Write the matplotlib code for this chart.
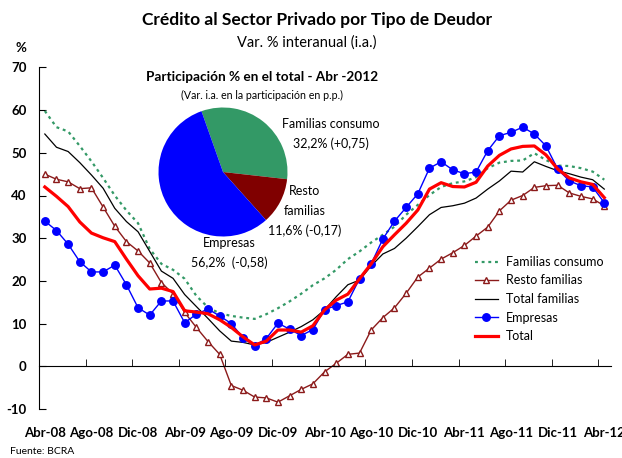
import numpy as np
import matplotlib.pyplot as plt

plt.rcParams['font.family'] = ['Lato', 'DejaVu Sans']

# monthly series, Abr-08 .. Abr-12 (var. % i.a.)
month_labels = ['Abr-08', 'Ago-08', 'Dic-08', 'Abr-09', 'Ago-09', 'Dic-09', 'Abr-10',
                'Ago-10', 'Dic-10', 'Abr-11', 'Ago-11', 'Dic-11', 'Abr-12']

familias_consumo = [59.8, 56.0, 55.0, 51.6, 48.0, 44.1, 40.0, 36.5, 33.5, 27.5, 24.0, 22.6, 20.5,
                    16.5, 13.8, 12.4, 11.8, 11.4, 11.1, 12.2, 13.6, 15.2, 17.0, 19.0, 20.6,
                    22.6, 25.1, 26.9, 29.0, 30.8, 32.7, 35.5, 37.8, 40.1, 42.0, 42.9, 43.3,
                    44.3, 46.4, 47.7, 48.1, 48.2, 49.9, 48.3, 47.0, 46.9, 46.4, 45.6, 43.7]
resto_familias = [45.0, 43.8, 43.2, 41.6, 41.8, 37.3, 32.8, 29.2, 27.0, 24.2, 19.6, 17.0, 12.6,
                  9.1, 5.8, 2.8, -4.5, -5.6, -7.2, -7.4, -8.4, -6.9, -5.4, -4.1, -1.3,
                  0.7, 2.8, 3.1, 8.5, 11.4, 13.7, 17.1, 20.9, 23.0, 25.1, 26.6, 28.3,
                  30.5, 32.6, 36.4, 38.9, 40.0, 41.9, 42.3, 42.4, 40.6, 39.8, 39.2, 37.6]
total_familias = [54.4, 51.3, 50.3, 47.7, 44.8, 41.7, 37.0, 33.9, 31.5, 26.9, 22.3, 20.6, 16.8,
                  14.0, 11.2, 8.3, 5.9, 5.6, 5.0, 5.6, 6.8, 8.0, 9.3, 10.9, 13.2,
                  16.3, 19.1, 20.2, 23.5, 26.3, 27.6, 30.0, 32.7, 35.5, 37.2, 37.6, 38.2,
                  39.4, 41.5, 43.4, 45.7, 45.5, 47.9, 46.8, 45.8, 45.1, 44.3, 43.7, 41.5]
empresas = [34.0, 31.8, 28.6, 24.5, 22.1, 22.1, 23.7, 19.1, 13.7, 12.0, 15.3, 15.3, 10.2,
            12.2, 13.4, 11.8, 10.0, 6.7, 4.8, 6.5, 10.1, 8.7, 7.2, 8.6, 13.3,
            14.2, 15.1, 20.5, 24.0, 29.8, 34.0, 37.2, 40.4, 46.4, 47.9, 46.0, 45.1,
            45.5, 50.5, 54.0, 54.8, 56.0, 54.4, 51.6, 46.2, 43.4, 42.3, 42.0, 38.3]
total = [42.0, 39.8, 37.4, 33.8, 31.2, 30.1, 29.2, 25.1, 21.2, 18.1, 18.3, 17.5, 13.0,
         12.7, 12.3, 10.9, 9.1, 6.9, 5.0, 5.9, 8.5, 8.5, 8.0, 9.5, 13.2,
         15.5, 16.9, 20.5, 24.0, 28.0, 30.8, 33.5, 36.6, 41.5, 43.0, 42.1, 42.0,
         43.1, 46.9, 49.4, 50.9, 51.5, 51.6, 49.5, 46.2, 44.1, 43.2, 42.6, 39.5]

# pie: participacion % en el total - Abr-2012
pie_shares = [32.2, 11.6, 56.2]
pie_labels = ['Familias consumo\n32,2% (+0,75)', 'Resto\nfamilias\n11,6% (-0,17)', 'Empresas\n56,2%  (-0,58)']
pie_colors = ['#339966', '#800000', '#0000FF']

W, H = 622, 458
fig = plt.figure(figsize=(W / 100, H / 100), dpi=100)
ax = fig.add_axes([39 / W, 1 - 409 / H, (610.7 - 39) / W, (409 - 67.4) / H])

x = np.arange(len(total))
ax.plot(x, familias_consumo, color='#339966', lw=1.6, ls=(0, (1.3, 1.7)), label='Familias consumo')
ax.plot(x, resto_familias, color='#8B1A1A', lw=1, marker='^', ms=5, mfc='white',
        mec='#8B1A1A', mew=1, label='Resto familias')
ax.plot(x, total_familias, color='black', lw=0.9, label='Total familias')
ax.plot(x, empresas, color='#0000FF', lw=1, marker='o', ms=5.4, label='Empresas')
ax.plot(x, total, color='#FF0000', lw=2.3, label='Total')

ax.set_xlim(-0.43, 48.55)
ax.set_ylim(-10, 70)
for s in ['top', 'right']:
    ax.spines[s].set_visible(False)
ax.spines['bottom'].set_position(('data', 0))

ax.set_yticks(range(-10, 71, 10))
ax.set_yticklabels([str(v) for v in range(-10, 71, 10)], fontsize=9.5, fontweight='bold')
ax.tick_params(axis='y', direction='in', length=5, pad=9)
ax.set_xticks(x[::4])
ax.set_xticklabels(month_labels, fontsize=9.5, fontweight='bold')
ax.tick_params(axis='x', which='major', length=0, pad=44)
ax.set_xticks(np.arange(-0.5, 48, 4), minor=True)
ax.tick_params(axis='x', which='minor', direction='in', length=5)

ax.legend(loc='upper left', bbox_to_anchor=(475 / W, 1 - 256 / H), bbox_transform=fig.transFigure,
          frameon=False, fontsize=9, handlelength=1.8, handletextpad=0.7, labelspacing=0.52,
          borderpad=0, borderaxespad=0)

fig.text(317 / W, 1 - 20 / H, 'Crédito al Sector Privado por Tipo de Deudor', ha='center', va='center',
         fontsize=12.5, fontweight='bold')
fig.text(307 / W, 1 - 43 / H, 'Var. % interanual (i.a.)', ha='center', va='center', fontsize=10.5)
fig.text(21 / W, 1 - 48 / H, '%', ha='center', va='center', fontsize=9.5, fontweight='bold')
fig.text(10 / W, 1 - 452 / H, 'Fuente: BCRA', ha='left', va='center', fontsize=7.5)

# pie inset
fig.text(262 / W, 1 - 77 / H, 'Participación % en el total - Abr -2012', ha='center', va='center',
         fontsize=9.8, fontweight='bold')
fig.text(262 / W, 1 - 95 / H, '(Var. i.a. en la participación en p.p.)', ha='center', va='center',
         fontsize=7.7)
cx, cy, r = 223, 172, 64.5
pax = fig.add_axes([(cx - r) / W, 1 - (cy + r) / H, 2 * r / W, 2 * r / H])
pax.pie(pie_shares, colors=pie_colors, startangle=109.5, counterclock=False, radius=1)
pax.set_xlim(-1, 1)
pax.set_ylim(-1, 1)
label_pos = [(331, 134), (305, 211), (229, 253)]
for lab, (lx, ly) in zip(pie_labels, label_pos):
    fig.text(lx / W, 1 - ly / H, lab, ha='center', va='center', fontsize=9, linespacing=1.75)

fig.savefig('out.png', dpi=100)
